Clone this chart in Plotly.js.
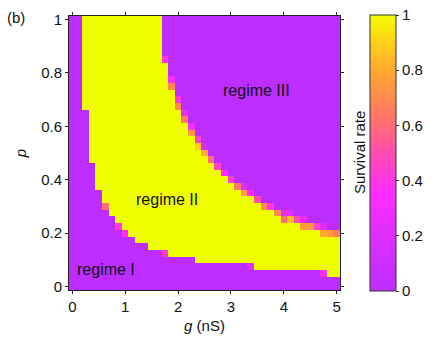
<!DOCTYPE html>
<html><head><meta charset="utf-8">
<script src="https://cdn.plot.ly/plotly-3.0.1.min.js"></script>
<style>html,body{margin:0;padding:0;background:#fff}#c{width:436px;height:343px}</style>
</head><body><div id="c"></div>
<script>
// g values (nS), 41 columns
const gVals = [0,0.125,0.25,0.375,0.5,0.625,0.75,0.875,1,1.125,1.25,1.375,1.5,1.625,1.75,1.875,2,2.125,2.25,2.375,2.5,2.625,2.75,2.875,3,3.125,3.25,3.375,3.5,3.625,3.75,3.875,4,4.125,4.25,4.375,4.5,4.625,4.75,4.875,5];
// p values, 41 rows
const pVals = [0,0.025,0.05,0.075,0.1,0.125,0.15,0.175,0.2,0.225,0.25,0.275,0.3,0.325,0.35,0.375,0.4,0.425,0.45,0.475,0.5,0.525,0.55,0.575,0.6,0.625,0.65,0.675,0.7,0.725,0.75,0.775,0.8,0.825,0.85,0.875,0.9,0.925,0.95,0.975,1];
// per column: lowest and highest row index with survival rate 1 (null = none)
const lowRow  = [null,null,27,19,15,13,11,10,9,8,7,7,6,6,6,5,5,5,5,4,4,4,4,4,4,4,4,4,3,3,3,3,3,3,3,3,3,3,3,2,2];
const highRow = [null,null,40,40,40,40,40,40,40,40,40,40,40,40,33,29,26,24,22,20,19,18,17,16,15,14,13,13,12,11,11,10,9,9,9,8,8,8,7,7,7];
// partial-survival cells on the boundaries
const partCol = [5,7,8,14,27,38, 14,15,15,16,16,17,17,18,18,19,19,20,20,21,22,23,24,25,26,26,27,28,29,30,31,32,32,33,33,34,35,35,36,37,38,38,39,40];
const partRow = [12,9,8,5,3,2, 34,31,30,28,27,26,25,24,23,22,21,21,20,19,18,17,16,15,15,14,14,13,12,12,11,11,10,11,10,10,10,9,9,9,9,8,8,8];
const partVal = [0.6,0.4,0.35,0.4,0.2,0.3, 0.4,0.3,0.7,0.4,0.7,0.25,0.65,0.3,0.75,0.45,0.9,0.15,0.8,0.6,0.45,0.35,0.45,0.65,0.2,0.75,0.35,0.5,0.7,0.4,0.7,0.25,0.6,0.2,0.85,0.5,0.25,0.75,0.75,0.45,0.2,0.8,0.75,0.65];

const z = pVals.map((p, r) => gVals.map((g, c) =>
  (lowRow[c] !== null && r >= lowRow[c] && r <= highRow[c]) ? 1 : 0));
partCol.forEach((c, i) => { z[partRow[i]][c] = partVal[i]; });

const cscale = [
  [0, '#BD2DFF'], [0.15, '#D52EFF'], [0.35, '#FF2CFF'], [0.5, '#FF4CB0'],
  [0.6, '#FF6C74'], [0.7, '#FF8A4E'], [0.8, '#FFAA2E'], [0.9, '#FFD01A'], [1, '#F0FF00']
];
const FONT = 'Liberation Sans, Arial, sans-serif';

const trace = {
  type: 'heatmap', x: gVals, y: pVals, z: z, zmin: 0, zmax: 1,
  colorscale: cscale, xgap: 0, ygap: 0, hoverinfo: 'skip',
  colorbar: {
    x: 1.112, xanchor: 'left', y: 0.5, yanchor: 'middle',
    thickness: 26, thicknessmode: 'pixels', len: 276, lenmode: 'pixels',
    xpad: 0, ypad: 0, outlinewidth: 1, outlinecolor: '#333',
    tickvals: [0,0.2,0.4,0.6,0.8,1], ticktext: ['0','0.2','0.4','0.6','0.8','1'],
    ticks: 'outside', ticklen: 3, tickcolor: '#333',
    tickfont: {family: FONT, size: 15, color: '#111'}
  }
};

const axCommon = {
  showgrid: false, zeroline: false, showline: true, linecolor: '#222', linewidth: 1,
  mirror: 'ticks', ticks: 'outside', ticklen: 3, tickcolor: '#222',
  tickfont: {family: FONT, size: 15, color: '#111'}
};

const layout = {
  width: 436, height: 343,
  margin: {l: 68.6, r: 91.6, t: 16, b: 52.6},
  paper_bgcolor: '#fff', plot_bgcolor: '#fff',
  font: {family: FONT, size: 15, color: '#111'},
  xaxis: Object.assign({}, axCommon, {
    range: [-0.0625, 5.0625], tickvals: [0,1,2,3,4,5],
    title: {text: '<i>g</i> (nS)', font: {family: FONT, size: 15}, standoff: 6}
  }),
  yaxis: Object.assign({}, axCommon, {
    range: [-0.0125, 1.0125], tickvals: [0,0.2,0.4,0.6,0.8,1],
    title: {text: '<i>p</i>', font: {family: FONT, size: 15}, standoff: 10}
  }),
  annotations: [
    {text: 'regime III', x: 3.48, y: 0.735, xref: 'x', yref: 'y', showarrow: false, font: {family: FONT, size: 16, color: '#111'}},
    {text: 'regime II', x: 1.8, y: 0.327, xref: 'x', yref: 'y', showarrow: false, font: {family: FONT, size: 16, color: '#111'}},
    {text: 'regime I', x: 0.645, y: 0.063, xref: 'x', yref: 'y', showarrow: false, font: {family: FONT, size: 16, color: '#111'}},
    {text: '(b)', x: -0.235, y: 0.996, xref: 'paper', yref: 'paper', xanchor: 'left', yanchor: 'middle', showarrow: false, font: {family: FONT, size: 15, color: '#111'}},
    {text: 'Survival rate', x: 1.0, y: 0.5, xref: 'paper', yref: 'paper', xshift: 19, textangle: -90, xanchor: 'center', yanchor: 'middle', showarrow: false, font: {family: FONT, size: 15, color: '#111'}}
  ]
};

Plotly.newPlot('c', [trace], layout, {displayModeBar: false, staticPlot: true});
</script></body></html>
